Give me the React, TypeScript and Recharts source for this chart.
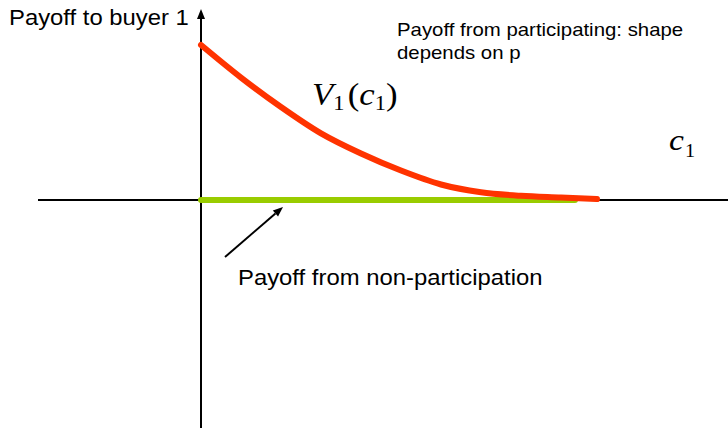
import React from 'react';
import { LineChart, Line, XAxis, YAxis, ReferenceLine, ReferenceDot } from 'recharts';

// c1 values along the horizontal axis (0 = origin, 1 = where the curve dies out)
const cValues = [0, 0.1, 0.2, 0.3, 0.4, 0.5, 0.6, 0.7, 0.8, 0.9, 0.99];
// payoff from participating, V1(c1)
const vValues = [1.0, 0.79, 0.6, 0.43, 0.3, 0.19, 0.1, 0.05, 0.027, 0.016, 0.006];
// payoff from non-participation: flat zero
const zeroC = [0, 0.935];
const zeroV = [0, 0];

const participating = cValues.map((c, i) => ({ c, v: vValues[i] }));
const nonParticipating = zeroC.map((c, i) => ({ c, v: zeroV[i] }));

const W = 728;
const H = 428;
const xDomain: [number, number] = [-0.5025, 1.3175];
const yDomain: [number, number] = [-1.471, 1.2903];

const sans = '"Liberation Sans", Arial, sans-serif';
const serif = '"Liberation Serif", "Times New Roman", serif';
const stretch = 1.12; // the slide was exported a little wider than tall

const arrowShape = (props: any) => {
  const { x1, y1, x2, y2 } = props;
  const ang = Math.atan2(y2 - y1, x2 - x1);
  const len = 10;
  const half = 4;
  const bx = x2 - len * Math.cos(ang);
  const by = y2 - len * Math.sin(ang);
  const px = -Math.sin(ang) * half;
  const py = Math.cos(ang) * half;
  return (
    <g>
      <line x1={x1} y1={y1} x2={bx} y2={by} stroke="#000" strokeWidth={2} />
      <polygon points={`${x2},${y2} ${bx + px},${by + py} ${bx - px},${by - py}`} fill="#000" />
    </g>
  );
};

const textAt = (content: React.ReactNode, size: number, family: string) => (p: any) => (
  <text x={0} y={0} transform={`translate(${p.cx},${p.cy}) scale(${stretch},1)`}
    fontSize={size} fontFamily={family} fill="#000">
    {content}
  </text>
);

const App: React.FC = () => {
  return (
    <div style={{ position: 'fixed', left: 0, top: 0, width: W, height: H, background: '#fff' }}>
      <LineChart width={W} height={H} margin={{ top: 0, right: 0, bottom: 0, left: 0 }}>
        <XAxis type="number" dataKey="c" domain={xDomain} hide allowDataOverflow />
        <YAxis type="number" dataKey="v" domain={yDomain} hide allowDataOverflow />

        {/* axes */}
        <ReferenceLine segment={[{ x: -0.4075, y: 0 }, { x: 1.3175, y: 0 }]} stroke="#000" strokeWidth={2} />
        <ReferenceLine segment={[{ x: 0, y: -1.471 }, { x: 0, y: 1.232 }]} shape={arrowShape} />
        {/* pointer to the non-participation line */}
        <ReferenceLine segment={[{ x: 0.06, y: -0.368 }, { x: 0.205, y: -0.045 }]} shape={arrowShape} />

        <Line data={nonParticipating} dataKey="v" stroke="#99cc00" strokeWidth={6} strokeLinecap="round"
          dot={false} activeDot={false} isAnimationActive={false} />
        <Line data={participating} dataKey="v" type="monotone" stroke="#ff3300" strokeWidth={6}
          strokeLinecap="round" dot={false} activeDot={false} isAnimationActive={false} />

        <ReferenceDot x={-0.48} y={1.129} r={0} shape={textAt('Payoff to buyer 1', 21.3, sans)} />
        <ReferenceDot x={0.49} y={1.058} r={0} shape={textAt('Payoff from participating: shape', 18.2, sans)} />
        <ReferenceDot x={0.49} y={0.91} r={0} shape={textAt('depends on p', 18.2, sans)} />
        <ReferenceDot x={0.0925} y={-0.548} r={0} shape={textAt('Payoff from non-participation', 21.3, sans)} />
        <ReferenceDot x={0.2775} y={0.613} r={0} shape={textAt(
          <>
            <tspan fontStyle="italic">V</tspan>
            <tspan fontSize={20} dy={5}>1</tspan>
            <tspan dx={3} dy={-5}>(</tspan>
            <tspan fontStyle="italic">c</tspan>
            <tspan fontSize={20} dy={5}>1</tspan>
            <tspan dy={-5}>)</tspan>
          </>, 31, serif)} />
        <ReferenceDot x={1.17} y={0.3226} r={0} shape={textAt(
          <>
            <tspan fontStyle="italic">c</tspan>
            <tspan fontSize={18} dx={1} dy={7}>1</tspan>
          </>, 30, serif)} />
      </LineChart>
    </div>
  );
};

export default App;
